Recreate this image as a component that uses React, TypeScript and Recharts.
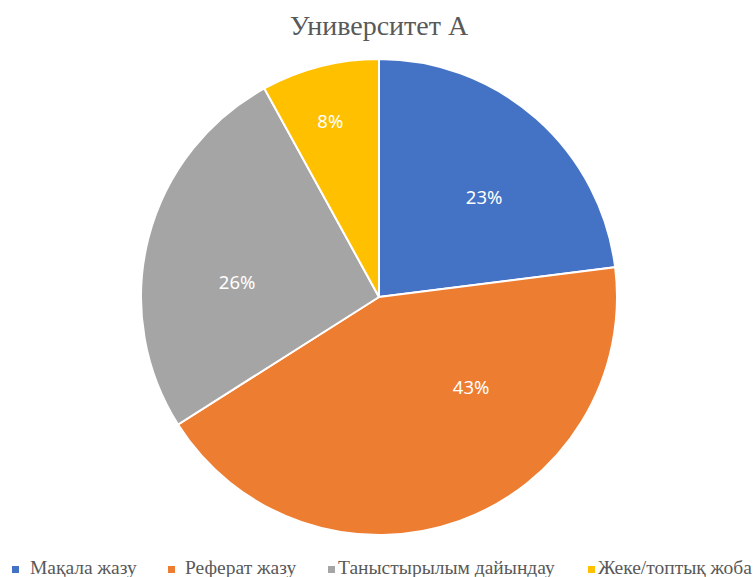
import React from "react";
import { PieChart, Pie, Cell, Legend } from "recharts";

const categories = ["Мақала жазу", "Реферат жазу", "Таныстырылым дайындау", "Жеке/топтық жоба"];
const values = [23, 43, 26, 8];
const colors = ["#4472C4", "#ED7D31", "#A5A5A5", "#FFC000"];
const title = "Университет А";

// label placement (style): radius fraction and angle shift in degrees per slice
const labelRadius = [0.61, 0.54, 0.6, 0.77];
const labelAngleShift = [-5, 26, 8, 1];
// legend layout (style): marker left and text left, in px
const legendMarkerX = [12, 168, 328, 588];
const legendTextX = [30, 185, 338, 598];

const data = categories.map((name, i) => ({ name, value: values[i] }));
const total = values.reduce((a, b) => a + b, 0);

const RAD = Math.PI / 180;
const renderLabel = (props: any) => {
  const { cx, cy, midAngle, outerRadius, value, index } = props;
  const r = outerRadius * labelRadius[index];
  const a = midAngle + labelAngleShift[index];
  const x = cx + r * Math.cos(-a * RAD);
  const y = cy + r * Math.sin(-a * RAD);
  return (
    <text
      x={x}
      y={y}
      fill="#FFFFFF"
      textAnchor="middle"
      dominantBaseline="central"
      style={{ fontFamily: "'Noto Sans', sans-serif", fontSize: 18.5 }}
    >
      {`${Math.round((value / total) * 100)}%`}
    </text>
  );
};

const renderLegend = () => (
  <div
    style={{
      position: "relative",
      width: 756,
      height: 22,
      whiteSpace: "nowrap",
      fontFamily: "'Liberation Serif', serif",
      fontSize: 19.5,
      color: "#595959",
    }}
  >
    {categories.map((c, i) => (
      <React.Fragment key={c}>
        <span
          style={{
            position: "absolute",
            left: legendMarkerX[i],
            top: 10,
            width: 7,
            height: 7,
            background: colors[i],
          }}
        />
        <span style={{ position: "absolute", left: legendTextX[i], top: 0, lineHeight: "24px" }}>{c}</span>
      </React.Fragment>
    ))}
  </div>
);

export default function App() {
  return (
    <div style={{ position: "absolute", left: 0, top: 0, width: 756, height: 577, background: "#fff", overflow: "hidden" }}>
      <div
        style={{
          position: "absolute",
          top: 10,
          left: 0,
          width: 758,
          textAlign: "center",
          fontFamily: "'Liberation Serif', serif",
          fontSize: 28,
          color: "#595959",
        }}
      >
        {title}
      </div>
      <PieChart width={756} height={577} margin={{ top: 0, right: 0, bottom: 0, left: 0 }}>
        <Pie
          data={data}
          dataKey="value"
          nameKey="name"
          cx={379}
          cy={297}
          outerRadius={238}
          startAngle={90}
          endAngle={-270}
          stroke="#FFFFFF"
          strokeWidth={2}
          label={renderLabel}
          labelLine={false}
          isAnimationActive={false}
        >
          {data.map((d, i) => (
            <Cell key={d.name} fill={colors[i]} />
          ))}
        </Pie>
        <Legend
          content={renderLegend}
          wrapperStyle={{ position: "absolute", left: 0, top: 556, width: 756 }}
        />
      </PieChart>
    </div>
  );
}
